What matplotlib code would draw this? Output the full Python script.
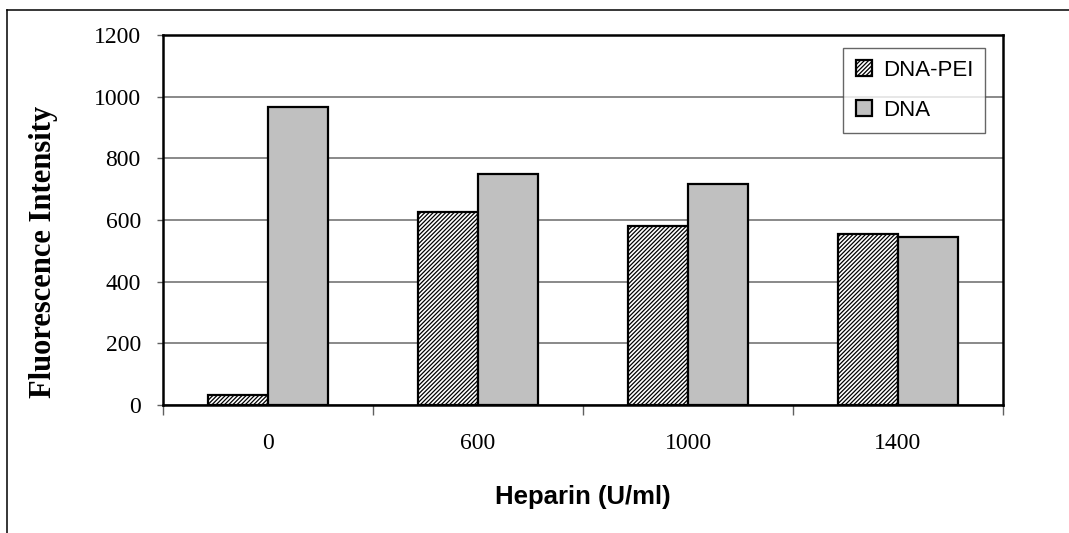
import matplotlib
matplotlib.use("Agg")
import matplotlib.pyplot as plt
from matplotlib.lines import Line2D
import numpy as np

# Data
categories = ["0", "600", "1000", "1400"]
dna_pei = [33, 627, 581, 555]
dna = [966, 748, 716, 545]
series_names = ["DNA-PEI", "DNA"]
y_ticks = [0, 200, 400, 600, 800, 1000, 1200]

plt.rcParams["hatch.linewidth"] = 0.9

W, H, DPI = 1069, 533, 100
fig = plt.figure(figsize=(W / DPI, H / DPI), dpi=DPI)

# Plot area in pixel terms
left, right, top, bottom = 163, 1003, 35, 405
ax = fig.add_axes([left / W, (H - bottom) / H, (right - left) / W, (bottom - top) / H])

x = np.arange(len(categories))
bw = 0.286

ax.bar(x - bw / 2, dna_pei, width=bw, facecolor="white", edgecolor="black",
       hatch="////////", linewidth=1.6, label=series_names[0], zorder=3)
ax.bar(x + bw / 2, dna, width=bw, facecolor="#c0c0c0", edgecolor="black",
       linewidth=1.6, label=series_names[1], zorder=3)

ax.set_xlim(-0.5, len(categories) - 0.5)
ax.set_ylim(0, 1200)

# y axis
ax.set_yticks(y_ticks)
ax.set_yticklabels([str(v) for v in y_ticks], fontfamily="Liberation Serif", fontsize=17)
ax.tick_params(axis="y", which="major", direction="out", length=4, width=1,
               color="#606060", pad=12)
ax.yaxis.grid(True, color="#808080", linewidth=1.3, zorder=0)
ax.set_axisbelow(True)

# x axis: ticks at category boundaries, labels at category centres
ax.set_xticks(np.arange(-0.5, len(categories), 1.0))
ax.set_xticklabels([])
ax.tick_params(axis="x", which="major", direction="out", length=7, width=1,
               color="#606060")
ax.set_xticks(x, minor=True)
ax.set_xticklabels(categories, minor=True, fontfamily="Liberation Serif", fontsize=17)
ax.tick_params(axis="x", which="minor", length=0, pad=20)

for sp in ax.spines.values():
    sp.set_linewidth(1.8)
    sp.set_color("black")

ax.set_ylabel("Fluorescence Intensity", fontfamily="Liberation Serif",
              fontweight="bold", fontsize=22)
ax.yaxis.set_label_coords(-0.125, 0.415)

ax.set_xlabel("Heparin (U/ml)", fontfamily="Liberation Sans", fontweight="bold",
              fontsize=18.5, va="center")
ax.xaxis.set_label_coords(0.5, -0.249)

leg = ax.legend(loc="upper left", bbox_to_anchor=(0.81, 0.965), frameon=True,
                fancybox=False, shadow=False, borderaxespad=0,
                prop={"family": "Liberation Sans", "size": 16},
                handlelength=0.72, handleheight=0.72, handletextpad=0.5,
                labelspacing=0.85, borderpad=0.55)
leg.get_frame().set_edgecolor("#404040")
leg.get_frame().set_linewidth(1.0)
leg.set_zorder(5)

# Outer frame of the figure
fig.add_artist(Line2D([7 / W, 7 / W], [0, (H - 10) / H], color="black",
                      linewidth=1.1, transform=fig.transFigure))
fig.add_artist(Line2D([7 / W, 1], [(H - 10) / H, (H - 10) / H], color="black",
                      linewidth=1.1, transform=fig.transFigure))

fig.savefig("out.png", dpi=DPI, facecolor="white")
